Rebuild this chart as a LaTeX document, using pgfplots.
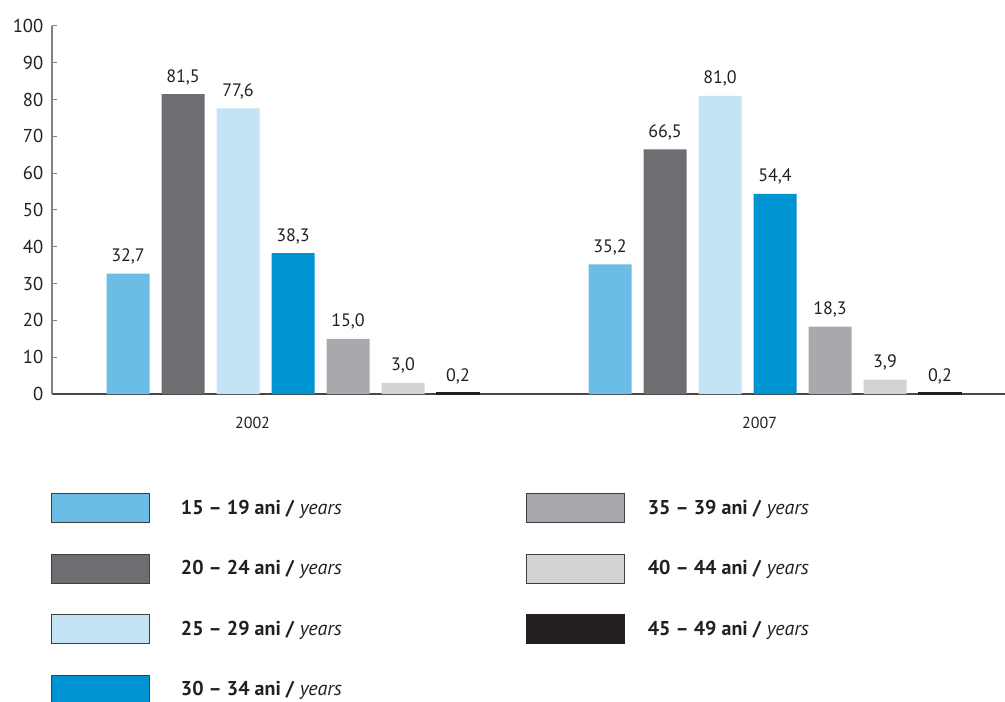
\documentclass[border=0pt]{standalone}
\usepackage{pgfplots}
\pgfplotsset{compat=1.18}
\usepackage{fontspec}
\setmainfont{PT Sans}
\definecolor{c1}{HTML}{6BBDE5}
\definecolor{c2}{HTML}{6D6E71}
\definecolor{c3}{HTML}{C4E3F5}
\definecolor{c4}{HTML}{0093D1}
\definecolor{c5}{HTML}{A7A9AC}
\definecolor{c6}{HTML}{D1D3D4}
\definecolor{c7}{HTML}{231F20}
\definecolor{txt}{HTML}{231F20}
\newcommand{\lent}[1]{\makebox[258.75pt][l]{\textbf{#1 ani /} \textit{years}}}
\newcommand{\rent}[1]{\textbf{#1 ani /} \textit{years}}
\begin{document}
\begin{tikzpicture}
\begin{axis}[
  at={(0,0)}, anchor=south west,
  x=361.5pt, y=2.76pt,
  xmin=-0.5, xmax=1.478, ymin=0, ymax=100,
  ybar, bar width=32.25pt,
  axis x line*=bottom, axis y line*=left,
  x axis line style={draw=black!72, line width=1.1pt},
  y axis line style={draw=black!50, line width=1.1pt},
  ytick={0,10,...,100},
  tick align=inside,
  major tick length=3.75pt,
  ytick style={draw=black!50, line width=0.75pt},
  xtick={-0.084,0.968},
  xticklabels={2002,2007},
  xtick style={draw=none},
  extra x ticks={0.5},
  extra x tick labels={},
  extra x tick style={tick style={draw=black!80, line width=0.6pt}, major tick length=6pt},
  /pgf/number format/assume math mode=true,
  yticklabel style={font=\fontsize{14}{16}\selectfont, text=txt, xshift=-3pt},
  xticklabel style={font=\fontsize{12}{14}\selectfont, text=txt, yshift=-13.5pt},
  nodes near coords,
  nodes near coords style={font=\fontsize{13.5}{15}\selectfont, text=txt, anchor=base, yshift=9pt,
    /pgf/number format/.cd, fixed, fixed zerofill, precision=1, use comma},
  legend columns=2,
  legend image code/.code={\draw[#1, line width=0.7pt] (0pt,-10.875pt) rectangle (73.5pt,10.875pt);},
  legend style={at={(axis description cs:-0.001,-0.269)}, anchor=north west,
    draw=none, fill=none, inner sep=0pt, outer sep=0pt,
    row sep=23pt, column sep=0pt,
    nodes={inner sep=0pt, font=\fontsize{15}{17}\selectfont, text=txt},
    /tikz/column 1/.style={column sep=23.25pt},
    /tikz/column 3/.style={column sep=17.25pt}},
]
\addplot[bar shift=-123.75pt, fill=c1, draw=none, forget plot] coordinates {(0,32.7) (1,35.2)};
\addplot[bar shift=-82.5pt, fill=c2, draw=none, forget plot] coordinates {(0,81.5) (1,66.5)};
\addplot[bar shift=-41.25pt, fill=c3, draw=none, forget plot] coordinates {(0,77.6) (1,81.0)};
\addplot[bar shift=0pt, fill=c4, draw=none, forget plot] coordinates {(0,38.3) (1,54.4)};
\addplot[bar shift=41.25pt, fill=c5, draw=none, forget plot] coordinates {(0,15.0) (1,18.3)};
\addplot[bar shift=82.5pt, fill=c6, draw=none, forget plot] coordinates {(0,3.0) (1,3.9)};
\addplot[bar shift=123.75pt, fill=c7, draw=c7, line width=1.2pt, forget plot] coordinates {(0,0.2) (1,0.2)};
\addlegendimage{fill=c1, draw=black!75}
\addlegendentry{\lent{15 – 19}}
\addlegendimage{fill=c5, draw=black!75}
\addlegendentry{\rent{35 – 39}}
\addlegendimage{fill=c2, draw=black!75}
\addlegendentry{\lent{20 – 24}}
\addlegendimage{fill=c6, draw=black!75}
\addlegendentry{\rent{40 – 44}}
\addlegendimage{fill=c3, draw=black!75}
\addlegendentry{\lent{25 – 29}}
\addlegendimage{fill=c7, draw=c7}
\addlegendentry{\rent{45 – 49}}
\addlegendimage{fill=c4, draw=black!75}
\addlegendentry{\lent{30 – 34}}
\end{axis}
\pgfresetboundingbox
\path (-39pt,-231pt) rectangle (714.75pt,295.5pt);
\end{tikzpicture}
\end{document}
